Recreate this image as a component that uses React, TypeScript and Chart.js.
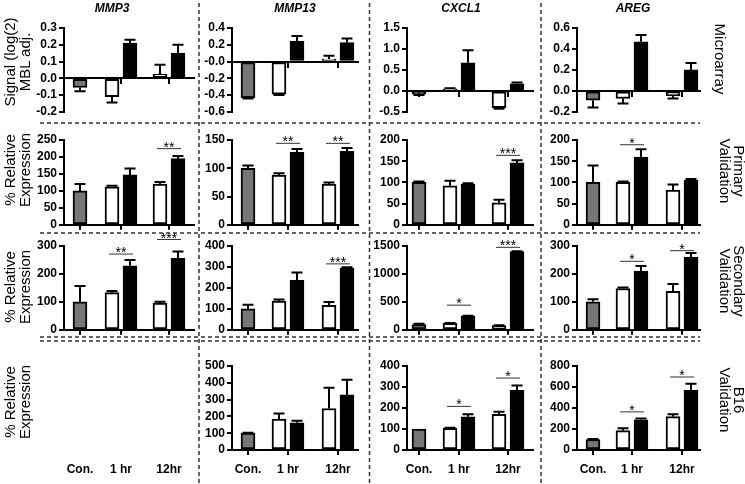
import React, { useEffect, useRef } from "react";
import { Chart, registerables } from "chart.js";

Chart.register(...registerables);

const FONT = "'Liberation Sans', Arial, sans-serif";
Chart.defaults.font.family = FONT;

// ---------- categories / labels ----------
const GROUPS = ["Con.", "1 hr", "12hr"];
const GENES = ["MMP3", "MMP13", "CXCL1", "AREG"];
const ROW_TITLES = [["Microarray"], ["Primary", "Validation"], ["Secondary", "Validation"], ["B16", "Validation"]];
const Y_TITLES = [["Signal (log(2)", "MBL adj."], ["% Relative", "Expression"], ["% Relative", "Expression"], ["% Relative", "Expression"]];

// ---------- data: order = [Con., 1 hr (white), 1 hr (black), 12hr (white), 12hr (black)] ----------
const MMP3_MICRO = [-0.055, -0.11, 0.21, 0.025, 0.15];
const MMP3_MICRO_SEM = [0.023, 0.035, 0.02, 0.055, 0.05];
const MMP3_PRIMARY = [100, 112, 147, 120, 195];
const MMP3_PRIMARY_SEM = [20, 3, 19, 6, 8];
const MMP3_PRIMARY_SIG: [number, number, string][] = [[2, 226, "**"]];
const MMP3_SECONDARY = [100, 133, 229, 96, 256];
const MMP3_SECONDARY_SEM = [57, 6, 21, 4, 24];
const MMP3_SECONDARY_SIG: [number, number, string][] = [[1, 273, "**"], [2, 325, "***"]];

const MMP13_MICRO = [-0.43, -0.39, 0.245, 0.03, 0.225];
const MMP13_MICRO_SEM = [0.01, 0.01, 0.06, 0.04, 0.05];
const MMP13_PRIMARY = [100, 88, 128, 72, 130];
const MMP13_PRIMARY_SEM = [5, 3, 6, 3, 6];
const MMP13_PRIMARY_SIG: [number, number, string][] = [[1, 145, "**"], [2, 145, "**"]];
const MMP13_SECONDARY = [100, 137, 236, 117, 295];
const MMP13_SECONDARY_SEM = [19, 8, 37, 16, 4];
const MMP13_SECONDARY_SIG: [number, number, string][] = [[2, 317, "***"]];
const MMP13_B16 = [100, 184, 162, 247, 329];
const MMP13_B16_SEM = [2, 33, 12, 123, 89];

const CXCL1_MICRO = [-0.08, 0.05, 0.67, -0.4, 0.17];
const CXCL1_MICRO_SEM = [0.02, 0.01, 0.3, 0.03, 0.03];
const CXCL1_PRIMARY = [100, 92, 96, 52, 146];
const CXCL1_PRIMARY_SEM = [2, 12, 2, 7, 6];
const CXCL1_PRIMARY_SIG: [number, number, string][] = [[2, 165, "***"]];
const CXCL1_SECONDARY = [95, 115, 245, 75, 1400];
const CXCL1_SECONDARY_SEM = [15, 5, 8, 5, 8];
const CXCL1_SECONDARY_SIG: [number, number, string][] = [[1, 450, "*"], [2, 1485, "***"]];
const CXCL1_B16 = [100, 103, 158, 170, 284];
const CXCL1_B16_SEM = [0, 3, 12, 12, 23];
const CXCL1_B16_SIG: [number, number, string][] = [[1, 210, "*"], [2, 345, "*"]];

const AREG_MICRO = [-0.09, -0.073, 0.468, -0.047, 0.2];
const AREG_MICRO_SEM = [0.07, 0.047, 0.065, 0.025, 0.065];
const AREG_PRIMARY = [100, 100, 160, 82, 105];
const AREG_PRIMARY_SEM = [40, 2, 18, 13, 3];
const AREG_PRIMARY_SIG: [number, number, string][] = [[1, 190, "*"]];
const AREG_SECONDARY = [100, 148, 210, 138, 260];
const AREG_SECONDARY_SEM = [9, 3, 18, 26, 15];
const AREG_SECONDARY_SIG: [number, number, string][] = [[1, 247, "*"], [2, 285, "*"]];
const AREG_B16 = [100, 185, 288, 318, 568];
const AREG_B16_SEM = [5, 22, 12, 22, 62];
const AREG_B16_SIG: [number, number, string][] = [[1, 368, "*"], [2, 700, "*"]];

// y axis [min, max, step] per panel
const Y_MICRO = [[-0.2, 0.3, 0.1], [-0.6, 0.4, 0.2], [-0.5, 1.5, 0.5], [-0.2, 0.6, 0.2]];
const Y_PRIMARY = [[0, 250, 50], [0, 150, 50], [0, 200, 50], [0, 200, 50]];
const Y_SECONDARY = [[0, 300, 100], [0, 400, 100], [0, 1500, 500], [0, 300, 100]];
const Y_B16 = [[0, 500, 100], [0, 500, 100], [0, 400, 100], [0, 800, 200]];

type Panel = {
  row: number;
  col: number;
  values?: number[];
  sem?: number[];
  sig?: [number, number, string][];
  y: number[];
  decimals?: number;
  zeroLabel?: string;
};

const PANELS: Panel[] = [
  { row: 0, col: 0, values: MMP3_MICRO, sem: MMP3_MICRO_SEM, y: Y_MICRO[0], decimals: 1 },
  { row: 0, col: 1, values: MMP13_MICRO, sem: MMP13_MICRO_SEM, y: Y_MICRO[1], decimals: 1, zeroLabel: "-0.0" },
  { row: 0, col: 2, values: CXCL1_MICRO, sem: CXCL1_MICRO_SEM, y: Y_MICRO[2], decimals: 1 },
  { row: 0, col: 3, values: AREG_MICRO, sem: AREG_MICRO_SEM, y: Y_MICRO[3], decimals: 1 },
  { row: 1, col: 0, values: MMP3_PRIMARY, sem: MMP3_PRIMARY_SEM, sig: MMP3_PRIMARY_SIG, y: Y_PRIMARY[0] },
  { row: 1, col: 1, values: MMP13_PRIMARY, sem: MMP13_PRIMARY_SEM, sig: MMP13_PRIMARY_SIG, y: Y_PRIMARY[1] },
  { row: 1, col: 2, values: CXCL1_PRIMARY, sem: CXCL1_PRIMARY_SEM, sig: CXCL1_PRIMARY_SIG, y: Y_PRIMARY[2] },
  { row: 1, col: 3, values: AREG_PRIMARY, sem: AREG_PRIMARY_SEM, sig: AREG_PRIMARY_SIG, y: Y_PRIMARY[3] },
  { row: 2, col: 0, values: MMP3_SECONDARY, sem: MMP3_SECONDARY_SEM, sig: MMP3_SECONDARY_SIG, y: Y_SECONDARY[0] },
  { row: 2, col: 1, values: MMP13_SECONDARY, sem: MMP13_SECONDARY_SEM, sig: MMP13_SECONDARY_SIG, y: Y_SECONDARY[1] },
  { row: 2, col: 2, values: CXCL1_SECONDARY, sem: CXCL1_SECONDARY_SEM, sig: CXCL1_SECONDARY_SIG, y: Y_SECONDARY[2] },
  { row: 2, col: 3, values: AREG_SECONDARY, sem: AREG_SECONDARY_SEM, sig: AREG_SECONDARY_SIG, y: Y_SECONDARY[3] },
  { row: 3, col: 0, y: Y_B16[0] },
  { row: 3, col: 1, values: MMP13_B16, sem: MMP13_B16_SEM, y: Y_B16[1] },
  { row: 3, col: 2, values: CXCL1_B16, sem: CXCL1_B16_SEM, sig: CXCL1_B16_SIG, y: Y_B16[2] },
  { row: 3, col: 3, values: AREG_B16, sem: AREG_B16_SEM, sig: AREG_B16_SIG, y: Y_B16[3] },
];

// ---------- layout (page pixels) ----------
const COL_AXIS = [64, 232, 407, 577];
const COL_RIGHT = [194, 358, 533, 700];
const COL_GROUP_X = [[16, 57, 105], [16, 56, 106], [12, 52, 101], [16, 55, 105]];
const ROW_TOP = [28, 140, 246, 366];
const ROW_BOTTOM = [113, 226, 331, 450];
const PAIR = 9;
const YW = 42;
const PT = 22;
const PR = 12;
const GRAY = "#767676";
const TICK_FONT = { family: FONT, size: 12, weight: "bold" as const };

const errorBarsPlugin = {
  id: "errorBars",
  afterDatasetsDraw(chart: any) {
    const ctx = chart.ctx;
    const ys = chart.scales.y;
    chart.data.datasets.forEach((ds: any, di: number) => {
      const meta = chart.getDatasetMeta(di);
      meta.data.forEach((el: any, j: number) => {
        const v = ds.data[j].y;
        const e = ds.errors ? ds.errors[j] : 0;
        if (!e) return;
        const end = ys.getPixelForValue(v >= 0 ? v + e : v - e);
        ctx.save();
        ctx.strokeStyle = "#000";
        ctx.lineWidth = 2;
        ctx.beginPath();
        ctx.moveTo(el.x, el.y);
        ctx.lineTo(el.x, end);
        ctx.moveTo(el.x - 5.5, end);
        ctx.lineTo(el.x + 5.5, end);
        ctx.stroke();
        ctx.restore();
      });
    });
  },
};

const sigPlugin = {
  id: "sigMarks",
  afterDatasetsDraw(chart: any, _args: any, opts: any) {
    const items = opts.items || [];
    const groups = opts.groups || [];
    const ctx = chart.ctx;
    const xs = chart.scales.x;
    const ys = chart.scales.y;
    items.forEach(([g, level, label]: [number, number, string]) => {
      const cx = xs.getPixelForValue(groups[g]);
      const y = ys.getPixelForValue(level);
      ctx.save();
      ctx.strokeStyle = "#333";
      ctx.lineWidth = 1;
      ctx.beginPath();
      ctx.moveTo(cx - 12, y + 0.5);
      ctx.lineTo(cx + 12, y + 0.5);
      ctx.stroke();
      ctx.fillStyle = "#000";
      ctx.font = `14px ${FONT}`;
      ctx.textAlign = "center";
      ctx.textBaseline = "alphabetic";
      ctx.fillText(label, cx, y + 3.5);
      ctx.restore();
    });
  },
};

function geom(p: Panel) {
  const span = COL_RIGHT[p.col] - COL_AXIS[p.col];
  const plotH = ROW_BOTTOM[p.row] - ROW_TOP[p.row];
  const bottom = p.row === 3 ? 30 : 8;
  return {
    span,
    left: COL_AXIS[p.col] - YW,
    top: ROW_TOP[p.row] - PT,
    w: YW + span + PR,
    h: PT + plotH + bottom,
    bottom,
  };
}

function buildConfig(p: Panel): any {
  const g = geom(p);
  const gx = COL_GROUP_X[p.col];
  const [ymin, ymax, ystep] = p.y;
  const empty = !p.values;
  const datasets = empty
    ? []
    : [
        {
          label: "Con.",
          data: [{ x: gx[0], y: p.values![0] }],
          errors: [p.sem![0]],
          backgroundColor: GRAY,
        },
        {
          label: "white",
          data: [
            { x: gx[1] - PAIR, y: p.values![1] },
            { x: gx[2] - PAIR, y: p.values![3] },
          ],
          errors: [p.sem![1], p.sem![3]],
          backgroundColor: "#ffffff",
        },
        {
          label: "black",
          data: [
            { x: gx[1] + PAIR, y: p.values![2] },
            { x: gx[2] + PAIR, y: p.values![4] },
          ],
          errors: [p.sem![2], p.sem![4]],
          backgroundColor: "#000000",
        },
      ];
  const nTicks = Math.round((ymax - ymin) / ystep);
  const yTicks: number[] = [];
  for (let k = 0; k <= nTicks; k++) yTicks.push(Math.round((ymin + k * ystep) * 1e6) / 1e6);

  return {
    type: "bar",
    data: { datasets },
    plugins: [errorBarsPlugin, sigPlugin],
    options: {
      animation: false,
      responsive: false,
      maintainAspectRatio: false,
      devicePixelRatio: 1,
      events: [],
      layout: { padding: { top: PT, right: PR, left: 0, bottom: p.row === 0 ? g.bottom : 0 } },
      datasets: {
        bar: {
          grouped: false,
          barPercentage: 1,
          categoryPercentage: 1,
          maxBarThickness: 14,
          borderWidth: 2,
          borderColor: "#000",
          borderSkipped: false,
        },
      },
      plugins: {
        legend: { display: false },
        tooltip: { enabled: false },
        sigMarks: { items: p.sig || [], groups: gx },
      },
      scales: {
        x: {
          type: "linear",
          min: 0,
          max: g.span,
          bounds: "data",
          offset: false,
          position: p.row === 0 ? { y: 0 } : "bottom",
          afterBuildTicks: (s: any) => {
            s.ticks = gx.map((v) => ({ value: v }));
          },
          afterFit: (s: any) => {
            s.height = g.bottom;
          },
          grid: {
            display: true,
            drawOnChartArea: false,
            drawTicks: true,
            tickLength: 5,
            lineWidth: 2,
            color: empty ? "rgba(0,0,0,0)" : "#000",
            offset: false,
          },
          border: { display: !empty, width: 2, color: "#000" },
          ticks: {
            display: p.row === 3,
            autoSkip: false,
            maxRotation: 0,
            minRotation: 0,
            padding: 7,
            font: TICK_FONT,
            color: "#000",
            callback: (_v: any, i: number) => GROUPS[i],
          },
        },
        y: {
          type: "linear",
          min: ymin,
          max: ymax,
          afterBuildTicks: (s: any) => {
            s.ticks = yTicks.map((v) => ({ value: v }));
          },
          afterFit: (s: any) => {
            s.width = YW;
          },
          grid: {
            display: !empty,
            drawOnChartArea: false,
            drawTicks: true,
            tickLength: 5,
            lineWidth: 2,
            color: "#000",
          },
          border: { display: !empty, width: 2, color: "#000" },
          ticks: {
            display: !empty,
            autoSkip: false,
            padding: 2,
            font: TICK_FONT,
            color: "#000",
            callback: (v: number) => {
              if (v === 0 && p.zeroLabel) return p.zeroLabel;
              return p.decimals ? v.toFixed(p.decimals) : String(v);
            },
          },
        },
      },
    },
  };
}

function PanelChart({ p }: { p: Panel }) {
  const ref = useRef<HTMLCanvasElement>(null);
  const g = geom(p);
  useEffect(() => {
    const chart = new Chart(ref.current as HTMLCanvasElement, buildConfig(p));
    return () => chart.destroy();
  }, []);
  return (
    <canvas
      ref={ref}
      width={g.w}
      height={g.h}
      style={{ position: "absolute", left: g.left, top: g.top, width: g.w, height: g.h }}
    />
  );
}

const COL_TITLE_X = [112, 295, 461, 633];
const LEFT_TITLE_Y = [62, 170, 287, 402];
const RIGHT_TITLE_POS = [
  [720, 59],
  [732, 171],
  [732, 281],
  [732, 400],
];
const V_LINES = [199, 369.5, 541];
const H_LINES = [123, 233, 337, 341];

export default function App() {
  return (
    <div
      style={{
        position: "absolute",
        left: 0,
        top: 0,
        width: 745,
        height: 484,
        background: "#fff",
        overflow: "hidden",
        fontFamily: FONT,
      }}
    >
      <svg width={745} height={484} style={{ position: "absolute", left: 0, top: 0 }}>
        {V_LINES.map((x, i) => (
          <line key={"v" + i} x1={x} x2={x} y1={3} y2={484} stroke="#333" strokeWidth={1.5} strokeDasharray="4 3" />
        ))}
        {H_LINES.map((y, i) => (
          <line key={"h" + i} x1={40} x2={700} y1={y} y2={y} stroke="#333" strokeWidth={1.5} strokeDasharray="4 3" />
        ))}
      </svg>
      {PANELS.map((p, i) => (
        <PanelChart key={i} p={p} />
      ))}
      {GENES.map((t, i) => (
        <div
          key={"g" + i}
          style={{
            position: "absolute",
            left: COL_TITLE_X[i],
            top: 8,
            transform: "translate(-50%, -50%)",
            fontSize: 12,
            fontWeight: "bold",
            fontStyle: "italic",
            whiteSpace: "nowrap",
            lineHeight: "14px",
          }}
        >
          {t}
        </div>
      ))}
      {Y_TITLES.map((lines, i) => (
        <div
          key={"y" + i}
          style={{
            position: "absolute",
            left: 17,
            top: LEFT_TITLE_Y[i],
            transform: "translate(-50%, -50%) rotate(-90deg)",
            fontSize: 15,
            textAlign: "center",
            whiteSpace: "nowrap",
            lineHeight: "15px",
          }}
        >
          {lines.map((l, k) => (
            <div key={k}>{l}</div>
          ))}
        </div>
      ))}
      {ROW_TITLES.map((lines, i) => (
        <div
          key={"r" + i}
          style={{
            position: "absolute",
            left: RIGHT_TITLE_POS[i][0],
            top: RIGHT_TITLE_POS[i][1],
            transform: "translate(-50%, -50%) rotate(90deg)",
            fontSize: 15,
            textAlign: "center",
            whiteSpace: "nowrap",
            lineHeight: "14px",
          }}
        >
          {lines.map((l, k) => (
            <div key={k}>{l}</div>
          ))}
        </div>
      ))}
    </div>
  );
}
